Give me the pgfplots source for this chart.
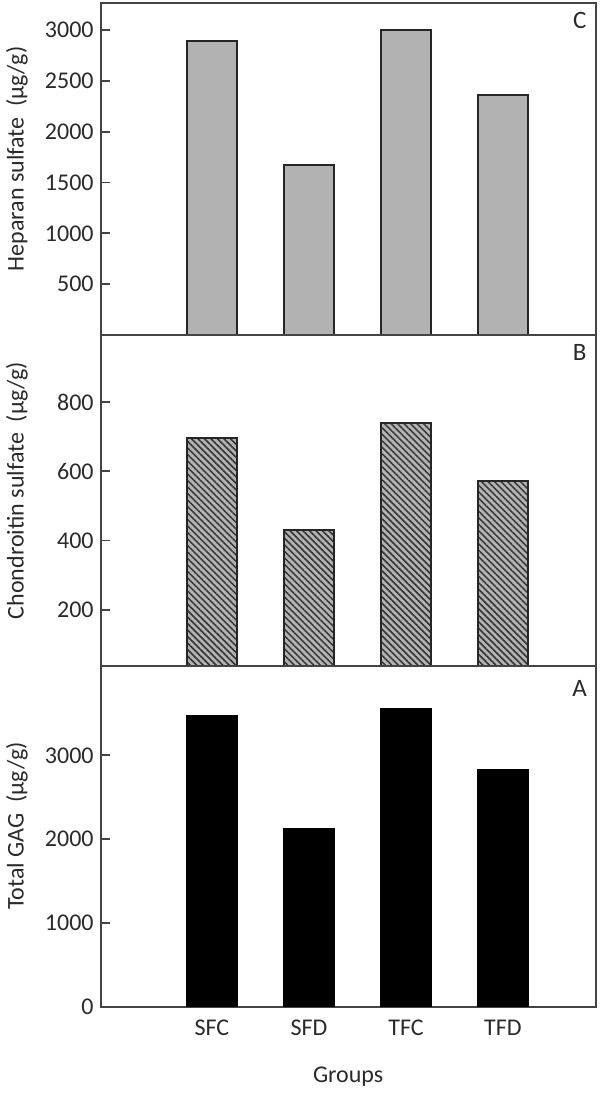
\documentclass[border=0pt]{standalone}
\usepackage{fontspec}
\setmainfont{Carlito}
\usepackage{pgfplots}
\pgfplotsset{compat=1.18}
\usetikzlibrary{patterns.meta}
\definecolor{framec}{HTML}{444444}
\definecolor{txt}{HTML}{2A2A2A}
\definecolor{barg}{HTML}{B2B2B2}
\begin{document}
\begin{tikzpicture}
\pgfplotsset{
  panel/.style={
    scale only axis, width=247.5pt,
    xmin=-1.147, xmax=3.956,
    axis line style={framec, line width=1pt},
    every tick/.style={framec, line width=0.9pt},
    tick align=inside, ytick pos=left, xtick pos=bottom,
    major tick length=4.6pt,
    ticklabel style={font=\fontsize{12}{14}\selectfont, text=txt},
    /pgf/number format/assume math mode=true,
    /pgf/number format/1000 sep={},
    scaled ticks=false,
    label style={font=\fontsize{12}{14}\selectfont, text=txt},
    ylabel style={at={([xshift=-41.9pt]axis description cs:0,0.53)}, anchor=center},
    ybar, bar width=25pt,
  }
}
% Panel C (top)
\begin{axis}[panel, at={(50.35pt,379pt)}, anchor=south west, height=166pt,
  ymin=0, ymax=3265, ytick={500,1000,1500,2000,2500,3000}, xtick=\empty,
  ylabel={Heparan sulfate\ \ (μg/g)}]
\addplot[bar shift=0pt, fill=barg, draw=black!85, line width=1pt] coordinates {(0,2895) (1,1675) (2,3000) (3,2360)};
\node[font=\fontsize{12.5}{14}\selectfont, text=txt] at ([xshift=-8pt,yshift=-8.5pt]rel axis cs:1,1) {C};
\end{axis}
% Panel B (middle)
\begin{axis}[panel, at={(50.35pt,213.5pt)}, anchor=south west, height=165.5pt,
  ymin=37, ymax=994, ytick={200,400,600,800}, xtick=\empty,
  ylabel={Chondroitin sulfate\ \ (μg/g)}]
\addplot[bar shift=0pt, fill=barg, draw=none] coordinates {(0,696) (1,430) (2,740) (3,573)};
\addplot[bar shift=0pt, draw=black!85, line width=1pt, pattern={Lines[angle=-45,distance=2.3pt,line width=0.75pt]}, pattern color=black!80] coordinates {(0,696) (1,430) (2,740) (3,573)};
\node[font=\fontsize{12.5}{14}\selectfont, text=txt] at ([xshift=-8pt,yshift=-9pt]rel axis cs:1,1) {B};
\end{axis}
% Panel A (bottom)
\begin{axis}[panel, at={(50.35pt,43.25pt)}, anchor=south west, height=170.25pt,
  ymin=0, ymax=4068, ytick={0,1000,2000,3000},
  xtick={0,1,2,3}, xticklabels={SFC,SFD,TFC,TFD},
  x tick style={draw=none},
  xticklabel style={yshift=1.5pt},
  ylabel={Total GAG\ \ (μg/g)}, xlabel={Groups},
  xlabel style={at={([yshift=-35pt]axis description cs:0.5,0)}, anchor=center}]
\addplot[bar shift=0pt, fill=black, draw=black, line width=1pt] coordinates {(0,3467) (1,2123) (2,3551) (3,2820)};
\node[font=\fontsize{12.5}{14}\selectfont, text=txt] at ([xshift=-8pt,yshift=-11pt]rel axis cs:1,1) {A};
\end{axis}
\pgfresetboundingbox
\path (0,0) rectangle (300pt,546.5pt);
\end{tikzpicture}
\end{document}
